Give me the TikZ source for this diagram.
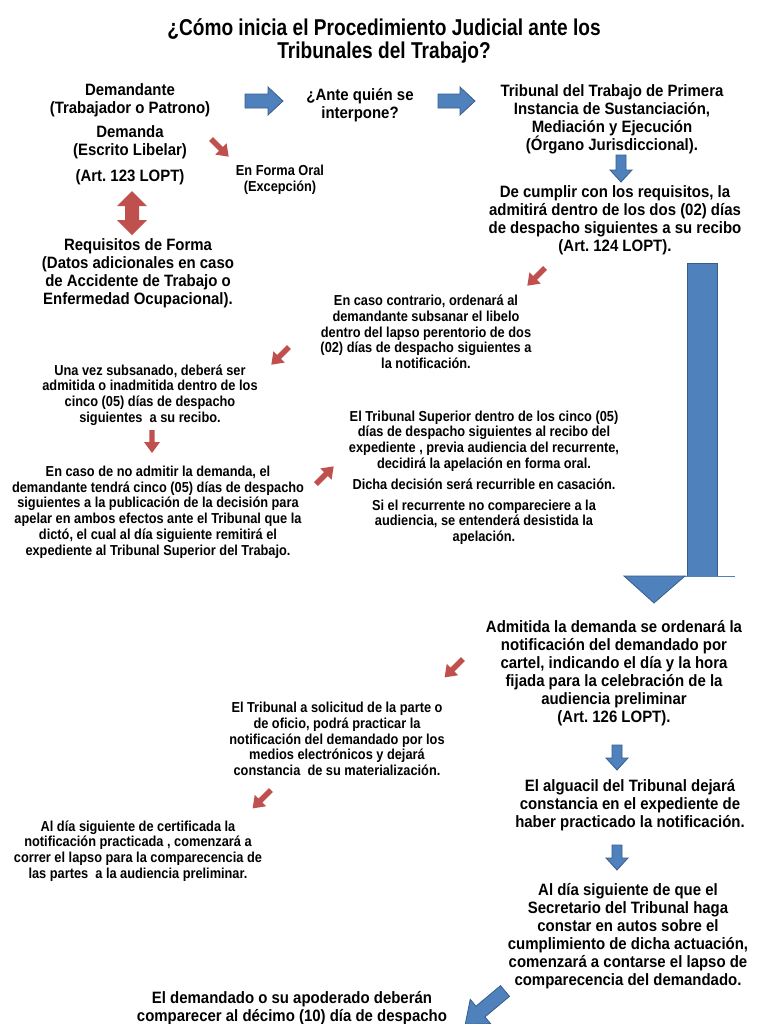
\documentclass[tikz,border=0pt]{standalone}
\usepackage{fontspec}
\setmainfont{Liberation Sans}
\newfontfamily\ftitulo{Liberation Sans}[FakeStretch=0.834]
\newfontfamily\fgrande{Liberation Sans}[FakeStretch=0.91]
\newfontfamily\fchica{Liberation Sans}[FakeStretch=0.885]
\definecolor{azul}{RGB}{79,129,189}
\definecolor{azulborde}{RGB}{56,93,138}
\definecolor{rojo}{RGB}{192,80,77}
\tikzset{
  titulo/.style={align=center, inner sep=0pt, font=\ftitulo\bfseries\fontsize{23}{23}\selectfont},
  grande/.style={align=center, inner sep=0pt, font=\fgrande\bfseries\fontsize{16.5}{18.2}\selectfont},
  chica/.style={align=center, inner sep=0pt, font=\fchica\bfseries\fontsize{14.5}{15.8}\selectfont},
  bloque/.style={fill=azul, draw=azulborde, line width=0.8bp}
}
% block arrow: tail, angle, length, shaft half width, head half width, head length
\newcommand{\flechazul}[6]{\filldraw[bloque, shift={(#1)}, rotate=#2]
  (0,-#4) -- (#3-#6,-#4) -- (#3-#6,-#5) -- (#3,0) -- (#3-#6,#5) -- (#3-#6,#4) -- (0,#4) -- cycle}
% small red arrow: tail, angle, length
\newcommand{\flecharoja}[3]{\fill[rojo, shift={(#1)}, rotate=#2]
  (0,-2.7) -- (#3-11,-2.7) -- (#3-11,-8) -- (#3,0) -- (#3-11,8) -- (#3-11,2.7) -- (0,2.7) -- cycle}

\begin{document}
\begin{tikzpicture}[x=1bp, y=-1bp]
\useasboundingbox (0,0) rectangle (768,1024);
\clip (0,0) rectangle (768,1024);
\fill[white] (0,0) rectangle (768,1024);
%Title
	\node[titulo] (titulo) at (384,41) {¿Cómo inicia el Procedimiento Judicial ante los\\Tribunales del Trabajo?};
%Left column
	\node[grande] (demandante) at (130,100) {Demandante\\(Trabajador o Patrono)};
	\node[grande] (demanda) at (130,142) {Demanda\\(Escrito Libelar)};
	\node[grande] (art123) at (130,177) {(Art.\ 123 LOPT)};
	\node[grande] (requisitos) at (138,273) {Requisitos de Forma\\(Datos adicionales en caso\\de Accidente de Trabajo o\\Enfermedad Ocupacional).};
	\node[chica] (oral) at (280,180) {En Forma Oral\\(Excepción)};
	\node[grande] (ante) at (360,105) {¿Ante quién se\\interpone?};
%Right column
	\node[grande] (tribunal) at (612,119) {Tribunal del Trabajo de Primera\\Instancia de Sustanciación,\\Mediación y Ejecución\\(Órgano Jurisdiccional).};
	\node[grande] (cumplir) at (615,220) {De cumplir con los requisitos, la\\admitirá dentro de los dos (02) días\\de despacho siguientes a su recibo\\(Art.\ 124 LOPT).};
%Middle
	\node[chica] (contrario) at (426,332) {En caso contrario, ordenará al\\demandante subsanar el libelo\\dentro del lapso perentorio de dos\\(02) días de despacho siguientes a\\la notificación.};
	\node[chica] (subsanado) at (150,395) {Una vez subsanado, deberá ser\\admitida o inadmitida dentro de los\\cinco (05) días de despacho\\siguientes \ a su recibo.};
	\node[chica] (noadmitir) at (158,512) {En caso de no admitir la demanda, el\\demandante tendrá cinco (05) días de despacho\\siguientes a la publicación de la decisión para\\apelar en ambos efectos ante el Tribunal que la\\dictó, el cual al día siguiente remitirá el\\expediente al Tribunal Superior del Trabajo.};
	\node[chica] (superior) at (484,441) {El Tribunal Superior dentro de los cinco (05)\\días de despacho siguientes al recibo del\\expediente , previa audiencia del recurrente,\\decidirá la apelación en forma oral.};
	\node[chica] (casacion) at (484,484) {Dicha decisión será recurrible en casación.};
	\node[chica] (desistida) at (484,522) {Si el recurrente no compareciere a la\\audiencia, se entenderá desistida la\\apelación.};
%Lower part
	\node[grande] (admitida) at (614,673) {Admitida la demanda se ordenará la\\notificación del demandado por\\cartel, indicando el día y la hora\\fijada para la celebración de la\\audiencia preliminar\\(Art.\ 126 LOPT).};
	\node[chica] (solicitud) at (337,739) {El Tribunal a solicitud de la parte o\\de oficio, podrá practicar la\\notificación del demandado por los\\medios electrónicos y dejará\\constancia \ de su materialización.};
	\node[grande] (alguacil) at (630,805) {El alguacil del Tribunal dejará\\constancia en el expediente de\\haber practicado la notificación.};
	\node[chica] (certificada) at (138,851) {Al día siguiente de certificada la\\notificación practicada , comenzará a\\correr el lapso para la comparecencia de\\las partes \ a la audiencia preliminar.};
	\node[grande] (secretario) at (628,936) {Al día siguiente de que el\\Secretario del Tribunal haga\\constar en autos sobre el\\cumplimiento de dicha actuación,\\comenzará a contarse el lapso de\\comparecencia del demandado.};
	\node[grande] (demandado) at (292,1008) {El demandado o su apoderado deberán\\comparecer al décimo (10) día de despacho};
%Blue arrows
	\flechazul{245,101}{0}{38}{7}{14}{15};
	\flechazul{438,101}{0}{37}{7}{14}{15};
	\flechazul{621,155}{-90}{27}{5}{11}{12};
	\flechazul{617,745}{-90}{25}{5}{11}{12};
	\flechazul{617,845}{-90}{25}{5}{11}{12};
	\flechazul{505,991}{-140}{52}{7}{16}{20};
%The long one
	\filldraw[bloque] (687,263) rectangle (717,576);
	\draw[azul, line width=1bp] (670,576) -- (735,576);
	\filldraw[bloque] (624,576) -- (685,576) -- (654,603) -- cycle;
%Red arrows
	\fill[rojo] (132,191) -- (147,206) -- (139,206) -- (139,220) -- (147,220) -- (132,235)
	  -- (117,220) -- (125,220) -- (125,206) -- (117,206) -- cycle;
	\flecharoja{211,139}{-45}{25};
	\flecharoja{545,268}{-135}{25};
	\flecharoja{289,347}{-135}{25};
	\flecharoja{152,430}{-90}{23};
	\flecharoja{316,484}{45}{25};
	\flecharoja{463,659}{-135}{26};
	\flecharoja{271,790}{-135}{26};
\end{tikzpicture}
\end{document}
